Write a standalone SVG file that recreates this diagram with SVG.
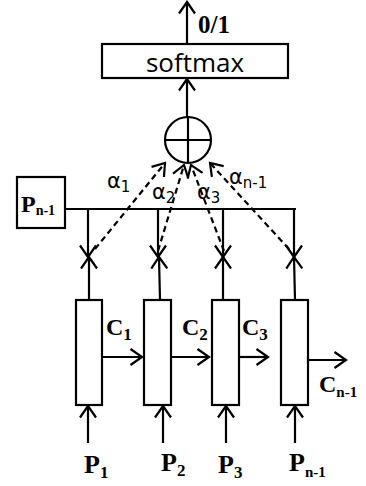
<svg xmlns="http://www.w3.org/2000/svg" width="366" height="486" viewBox="0 0 366 486">
<style>
.box{fill:#fff;stroke:#000;stroke-width:2.2}
.ln{fill:none;stroke:#000;stroke-width:2.2}
.arr{fill:none;stroke:#000;stroke-width:2.2;marker-end:url(#ah)}
.dash{fill:none;stroke:#000;stroke-width:2.2;stroke-dasharray:6,4;marker-end:url(#ah)}
.bs{font-family:"Liberation Serif","Times New Roman",serif;font-weight:bold;fill:#000}
.ss{font-family:"DejaVu Sans","Liberation Sans",sans-serif;fill:#000}
</style>
<defs>
<marker id="ah" viewBox="0 0 16 20" markerWidth="16" markerHeight="20" refX="13" refY="10" orient="auto" markerUnits="userSpaceOnUse">
<path d="M1.5,2 L13,10 L1.5,18" fill="none" stroke="#000" stroke-width="2.2"/>
</marker>
</defs>
<g id="connectors">
<line class="arr" x1="187" y1="44" x2="187" y2="2"/>
<line class="arr" x1="187" y1="117" x2="187" y2="79"/>
<line class="ln" x1="66" y1="209" x2="296" y2="209"/>
<line class="arr" x1="88" y1="209" x2="88" y2="257"/>
<line class="arr" x1="158" y1="209" x2="158" y2="257"/>
<line class="arr" x1="223" y1="209" x2="223" y2="257"/>
<line class="arr" x1="294" y1="209" x2="294" y2="257"/>
<line class="arr" x1="89" y1="300" x2="89" y2="257"/>
<line class="arr" x1="160" y1="300" x2="159" y2="257"/>
<line class="arr" x1="223" y1="300" x2="223" y2="257"/>
<line class="arr" x1="295" y1="300" x2="294" y2="257"/>
<line class="dash" x1="95" y1="249" x2="165" y2="163"/>
<line class="dash" x1="158" y1="251" x2="184" y2="165"/>
<line class="dash" x1="224" y1="251" x2="191" y2="165"/>
<line class="dash" x1="289" y1="249" x2="210" y2="163"/>
<line class="arr" x1="102" y1="357" x2="142" y2="357"/>
<line class="arr" x1="171" y1="357" x2="209" y2="357"/>
<line class="arr" x1="239" y1="357" x2="268" y2="357"/>
<line class="arr" x1="308" y1="360" x2="346" y2="360"/>
<line class="arr" x1="88" y1="443" x2="88" y2="406"/>
<line class="arr" x1="163" y1="443" x2="163" y2="406"/>
<line class="arr" x1="226" y1="443" x2="226" y2="406"/>
<line class="arr" x1="295" y1="443" x2="295" y2="406"/>
</g>
<text class="bs" x="198" y="33" font-size="25">0/1</text>
<g id="softmax">
<rect class="box" x="102" y="44" width="186" height="34"/>
<text x="195" y="72" font-size="26" text-anchor="middle" font-family="Open Sans, Liberation Sans, sans-serif">softmax</text>
</g>
<g id="sum">
<circle class="box" cx="188" cy="140" r="23"/>
<line class="ln" x1="165" y1="140" x2="211" y2="140"/>
<line class="ln" x1="188" y1="117" x2="188" y2="163"/>
</g>
<g id="pn1">
<rect class="box" x="17" y="177" width="48" height="51"/>
<text class="bs" x="21" y="212" font-size="24">P<tspan font-size="14" dy="3">n-1</tspan></text>
</g>
<g id="alphas" class="ss">
<text x="107" y="188" font-size="21">α<tspan font-size="15" dy="4">1</tspan></text>
<text x="152" y="199" font-size="21">α<tspan font-size="15" dy="4">2</tspan></text>
<text x="197" y="199" font-size="21">α<tspan font-size="15" dy="4">3</tspan></text>
<text x="229" y="184" font-size="21">α<tspan font-size="15" dy="4">n-1</tspan></text>
</g>
<g id="cell1"><rect class="box" x="76" y="300" width="26" height="105"/></g>
<g id="cell2"><rect class="box" x="144" y="300" width="27" height="105"/></g>
<g id="cell3"><rect class="box" x="212" y="300" width="27" height="105"/></g>
<g id="cell4"><rect class="box" x="281" y="300" width="27" height="105"/></g>
<g id="clabels">
<text class="bs" x="106" y="335" font-size="24">C<tspan font-size="17" dy="5">1</tspan></text>
<text class="bs" x="182" y="335" font-size="24">C<tspan font-size="17" dy="5">2</tspan></text>
<text class="bs" x="242" y="335" font-size="24">C<tspan font-size="17" dy="5">3</tspan></text>
<text class="bs" x="319" y="392" font-size="24">C<tspan font-size="15" dy="5">n-1</tspan></text>
</g>
<g id="plabels">
<text class="bs" x="84" y="473" font-size="26">P<tspan font-size="17" dy="5">1</tspan></text>
<text class="bs" x="161" y="471" font-size="26">P<tspan font-size="17" dy="5">2</tspan></text>
<text class="bs" x="218" y="473" font-size="26">P<tspan font-size="17" dy="5">3</tspan></text>
<text class="bs" x="289" y="471" font-size="26">P<tspan font-size="15" dy="6">n-1</tspan></text>
</g>
</svg>
